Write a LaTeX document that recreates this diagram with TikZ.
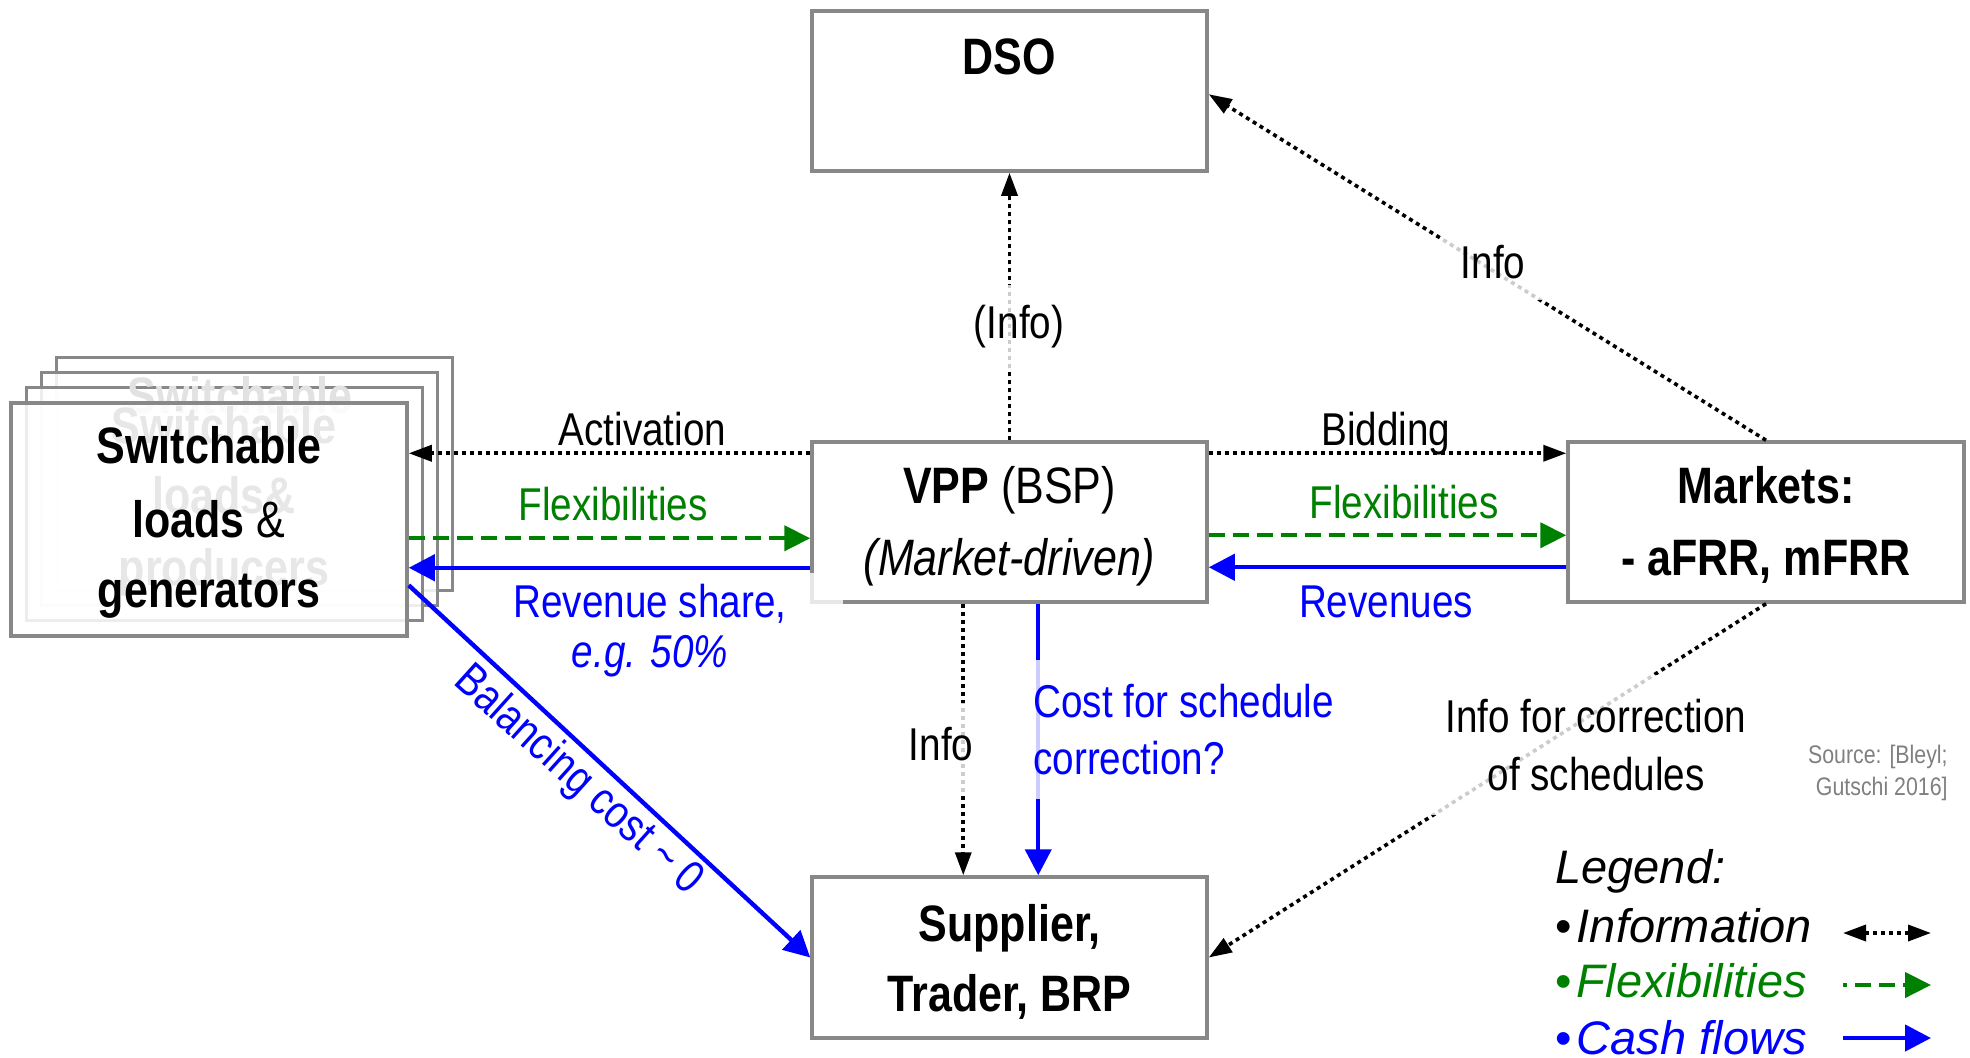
\documentclass[tikz,border=0pt]{standalone}
\usepackage{fontspec}
\setmainfont{Liberation Sans}[FakeStretch=0.84]
\newfontfamily\legfont{Liberation Sans}
\usetikzlibrary{arrows.meta,calc}
\definecolor{boxgray}{RGB}{136,136,136}
\definecolor{flexgreen}{RGB}{0,128,0}
\definecolor{cashblue}{RGB}{0,0,255}
\definecolor{srcgray}{RGB}{128,128,128}
\definecolor{ghostgray}{RGB}{95,95,95}
\definecolor{ghostlight}{RGB}{226,226,226}
\tikzset{
 box/.style={draw=boxgray, line width=1.75pt, fill=white, fill opacity=0.85, text opacity=1, inner sep=0pt},
 ttl/.style={font=\fontsize{25.6}{30}\selectfont\bfseries, inner sep=0pt, anchor=base},
 ttln/.style={font=\fontsize{25.6}{30}\selectfont, inner sep=0pt, anchor=base},
 ghost/.style={ttl, text=ghostgray},
 lab/.style={font=\fontsize{23}{28}\selectfont, inner sep=0pt, anchor=base},
 veil/.style={fill=white, fill opacity=0.8, text opacity=1},
 leg/.style={font=\legfont\itshape\fontsize{23.5}{28}\selectfont, inner sep=0pt, anchor=base west},
 infoline/.style={line width=1.8pt, dash pattern=on 2pt off 2pt, -{Triangle[length=11.5pt,width=8pt]}},
 flexline/.style={flexgreen, line width=2.2pt, dash pattern=on 8pt off 4pt, -{Triangle[length=13pt,width=12.5pt]}},
 cashline/.style={cashblue, line width=2.2pt, -{Triangle[length=13pt,width=13pt]}},
}
\begin{document}
\begin{tikzpicture}[x=0.5pt,y=-0.5pt]
\useasboundingbox (0,0) rectangle (1970,1057);

% stacked boxes
\node[box, minimum width=198pt, minimum height=116.5pt] (sw4) at (254.5,474) {};
\node[box, minimum width=198pt, minimum height=116.5pt] (sw3) at (239.5,489) {};
\node[box, minimum width=198pt, minimum height=116.5pt] (sw2) at (224.5,504) {};
\node[ttl, text=ghostlight] (g3a) at (240,413) {Switchable};
\node[ghost] (g2a) at (224,443) {Switchable};
\node[ghost] (g2b) at (224,513) {loads\&};
\node[ghost] (g2c) at (224,585) {producers};
\node[box, minimum width=198pt, minimum height=116.5pt] (sw1) at (209,519.5) {};
\node[ttl] (sw1a) at (209,463) {Switchable};
\node[ttl] (sw1b) at (209,537) {loads {\mdseries\&}};
\node[ttl] (sw1c) at (209,607) {generators};

% other boxes
\node[box, minimum width=197.5pt, minimum height=80pt] (dso) at (1009.5,91) {};
\node[ttl] (dsot) at (1009.5,74) {DSO};
\node[box, minimum width=197.5pt, minimum height=80pt] (vpp) at (1009.5,522) {};
\node[ttln] (vppa) at (1009.5,503) {\textbf{VPP} (BSP)};
\node[ttln] (vppb) at (1009.5,575) {\textit{(Market-driven)}};
\node[box, minimum width=198pt, minimum height=80pt] (mkt) at (1766,522) {};
\node[ttl] (mkta) at (1766,503) {Markets:};
\node[ttl] (mktb) at (1766,575) {- aFRR, mFRR};
\node[box, minimum width=197.5pt, minimum height=80.5pt] (sup) at (1009.5,957.5) {};
\node[ttl] (supa) at (1009.5,941) {Supplier,};
\node[ttl] (supb) at (1009.5,1011) {Trader, BRP};

% connectors
\coordinate (actS) at ([yshift=-6.5pt]vpp.north west);
\draw[infoline] (actS) -- (actS -| sw1.east);
\coordinate (flxS) at ([yshift=-49pt]vpp.north west);
\draw[flexline] (flxS -| sw1.east) -- (flxS);
\coordinate (rshS) at ([yshift=-63.75pt]vpp.north west);
\draw[cashline] (rshS) -- (rshS -| sw1.east);
\coordinate (bidS) at ([yshift=-6.5pt]vpp.north east);
\draw[infoline] (bidS) -- (bidS -| mkt.west);
\coordinate (flxR) at ([yshift=-47.5pt]vpp.north east);
\draw[flexline] (flxR) -- (flxR -| mkt.west);
\coordinate (revR) at ([yshift=-63.5pt]vpp.north east);
\draw[cashline] (revR -| mkt.west) -- (revR);
\draw[infoline] (vpp.north) -- (dso.south);
\draw[infoline] (mkt.north) -- ([yshift=-42.5pt]dso.north east);
\draw[infoline] (mkt.south) -- (sup.east);
\coordinate (infS) at ([xshift=76.5pt]vpp.south west);
\draw[infoline] (infS) -- (infS |- sup.north);
\coordinate (cstS) at ([xshift=114pt]vpp.south west);
\draw[cashline] (cstS) -- (cstS |- sup.north);

% labels
\node[lab] (lact) at (642.5,445) {Activation};
\node[lab, text=flexgreen] (lflx) at (613,520) {Flexibilities};
\node[lab, text=cashblue, veil, align=center, anchor=north, minimum width=193pt, inner ysep=5.2pt, font=\fontsize{23}{25}\selectfont] (lrsh) at (650,573) {Revenue share,\\\textit{e.g. 50\%}};
\node[lab] (lbid) at (1386,445) {Bidding};
\node[lab, text=flexgreen] (lflxr) at (1404,518) {Flexibilities};
\node[lab, text=cashblue] (lrev) at (1386,617) {Revenues};
\node[lab, veil, inner ysep=10pt, inner xsep=4pt] (ldso) at (1019,338) {(Info)};
\node[lab, veil, inner ysep=11pt, inner xsep=10pt, text depth=0pt] (linf1) at (1493,278) {Info};
\node[lab, veil, inner ysep=12pt, inner xsep=6pt, text depth=5pt] (linf2) at (941,760) {Info};
\node[lab, veil, text=cashblue, align=left, anchor=north west, inner ysep=12pt, inner xsep=8pt, font=\fontsize{23}{28.5}\selectfont] (lcst) at (1017,660) {Cost for schedule\\correction?};
\node[lab, veil, align=center, anchor=north, inner ysep=12pt, inner xsep=8pt, font=\fontsize{23}{29}\selectfont] (lcor) at (1596,675) {Info for correction\\of schedules};
\node[lab, text=cashblue, rotate=-42, anchor=center] (lbal) at (578,781) {Balancing cost \textasciitilde{} 0};

% balancing arrow on top
\draw[cashline] ([yshift=-92pt]sw1.north east) -- (sup.west);

% source
\node[font=\fontsize{12.7}{16}\selectfont, text=srcgray, inner sep=0pt, anchor=base east] (src1) at (1948,763) {Source: [Bleyl;};
\node[font=\fontsize{12.7}{16}\selectfont, text=srcgray, inner sep=0pt, anchor=base east] (src2) at (1948,795) {Gutschi 2016]};

% legend
\node[leg] (lg0) at (1555,883) {Legend:};
\node[leg] (lg1) at (1555,942) {{\upshape •}\hspace{2.5pt}Information};
\node[leg, text=flexgreen] (lg2) at (1555,997) {{\upshape •}\hspace{2.5pt}Flexibilities};
\node[leg, text=cashblue] (lg3) at (1555,1054) {{\upshape •}\hspace{2.5pt}Cash flows};
\coordinate (l1a) at (1843,933); \coordinate (l1b) at (1931,933);
\coordinate (l2a) at (1843,985); \coordinate (l2b) at (1931,985);
\coordinate (l3a) at (1843,1038); \coordinate (l3b) at (1931,1038);
\draw[infoline, {Triangle[length=11.5pt,width=8pt]}-{Triangle[length=11.5pt,width=8pt]}] (l1a) -- (l1b);
\draw[flexline, dash phase=6pt] (l2a) -- (l2b);
\draw[cashline] (l3a) -- (l3b);
\end{tikzpicture}
\end{document}
